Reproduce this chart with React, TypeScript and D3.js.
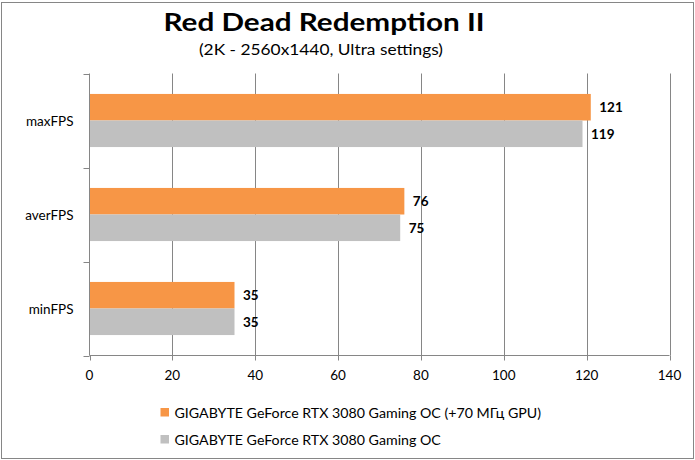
import React from "react";
import * as d3 from "d3";

const categories = ["maxFPS", "averFPS", "minFPS"];
const seriesNames = [
  "GIGABYTE GeForce RTX 3080 Gaming OC (+70 МГц GPU)",
  "GIGABYTE GeForce RTX 3080 Gaming OC",
];
const ocValues = [121, 76, 35];
const stockValues = [119, 75, 35];
const xTicks = [0, 20, 40, 60, 80, 100, 120, 140];
const colors = ["#F79646", "#C0C0C0"];

const W = 695;
const H = 460;
const FONT = "Lato, 'Open Sans', sans-serif";

export default function App() {
  const x = d3.scaleLinear().domain([0, 140]).range([89.5, 669.5]);
  const y = d3.scaleBand().domain(categories).range([73.5, 355.5]).paddingInner(0).paddingOuter(0);
  const inner = d3
    .scaleBand()
    .domain(["0", "1"])
    .range([0, y.bandwidth()])
    .paddingInner(0)
    .paddingOuter(0.77);
  const series = [ocValues, stockValues];
  const top = y.range()[0];
  const bottom = y.range()[1];
  const left = x.range()[0];
  const right = x.range()[1];
  const boundaries = [...categories.map((c) => y(c) as number), bottom];
  const grid = "#868686";

  return (
    <svg
      width={W}
      height={H}
      style={{ position: "fixed", left: 0, top: 0, background: "#fff" }}
      fontFamily={FONT}
    >
      <rect x={1.5} y={2.5} width={692} height={456} fill="#fff" stroke="#868686" strokeWidth={1} />
      <text
        x={163.5}
        y={31}
        fontSize={24.5}
        fontWeight="bold"
        fill="#000"
        textLength={321}
        lengthAdjust="spacingAndGlyphs"
      >
        Red Dead Redemption II
      </text>
      <text x={199} y={54.5} fontSize={14.5} fill="#000" textLength={244} lengthAdjust="spacingAndGlyphs">
        (2K - 2560x1440, Ultra settings)
      </text>

      {xTicks.slice(1).map((t) => (
        <line key={"g" + t} x1={Math.round(x(t)) + 0.5} x2={Math.round(x(t)) + 0.5} y1={top} y2={bottom} stroke={grid} />
      ))}

      {categories.map((c, i) =>
        series.map((s, j) => (
          <rect
            key={c + j}
            x={left}
            y={(y(c) as number) + (inner(String(j)) as number)}
            width={x(s[i]) - left}
            height={inner.bandwidth()}
            fill={colors[j]}
          />
        ))
      )}

      <line x1={left} x2={left} y1={top} y2={bottom} stroke={grid} />
      {boundaries.map((b, i) => (
        <line key={"yt" + i} x1={left - 6} x2={left} y1={Math.round(b) + 0.5} y2={Math.round(b) + 0.5} stroke={grid} />
      ))}
      <line x1={left} x2={right} y1={bottom} y2={bottom} stroke={grid} />
      {xTicks.map((t) => (
        <line key={"xt" + t} x1={Math.round(x(t)) + 0.5} x2={Math.round(x(t)) + 0.5} y1={bottom} y2={bottom + 5} stroke={grid} />
      ))}
      {xTicks.map((t) => (
        <text key={"xl" + t} x={x(t)} y={375} textAnchor="middle" dominantBaseline="central" fontSize={13.5} fill="#000">
          {t}
        </text>
      ))}

      {categories.map((c) => (
        <text
          key={"cl" + c}
          x={73.5}
          y={(y(c) as number) + y.bandwidth() / 2}
          textAnchor="end"
          dominantBaseline="central"
          fontSize={13.5}
          fill="#000"
        >
          {c}
        </text>
      ))}

      {categories.map((c, i) =>
        series.map((s, j) => (
          <text
            key={"v" + c + j}
            x={x(s[i]) + 8.5}
            y={(y(c) as number) + (inner(String(j)) as number) + inner.bandwidth() / 2}
            dominantBaseline="central"
            fontSize={13.5}
            fontWeight="bold"
            fill="#000"
          >
            {s[i]}
          </text>
        ))
      )}

      {seriesNames.map((n, j) => (
        <g key={"lg" + j}>
          <rect x={160.5} y={408 + j * 27} width={8.5} height={8.5} fill={colors[j]} />
          <text x={174.5} y={412.3 + j * 27} dominantBaseline="central" fontSize={14.2} fill="#000">
            {n}
          </text>
        </g>
      ))}
    </svg>
  );
}
